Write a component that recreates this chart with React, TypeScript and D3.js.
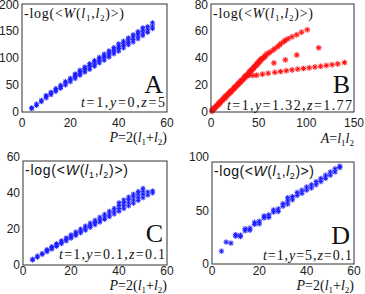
import React from "react";
import * as d3 from "d3";

// ---------- DATA ----------
// Panel A: P = 2(l1+l2), -log<W>
const aP = [4, 4, 6, 6, 8, 8, 10, 10, 10, 12, 12, 12, 14, 14, 14, 16, 16, 16, 18, 18, 18, 20, 20, 20,
  22, 22, 22, 22, 24, 24, 24, 24, 26, 26, 26, 26, 28, 28, 28, 28, 30, 30, 30, 30, 32, 32, 32, 32,
  34, 34, 34, 34, 36, 36, 36, 36, 38, 38, 38, 38, 40, 40, 40, 40, 42, 42, 42, 42, 44, 44, 44, 44,
  46, 46, 46, 46, 48, 48, 48, 48, 50, 50, 50, 50, 52, 52, 52, 54, 54, 54];
const aW = [6, 8, 12, 15, 19, 22, 26, 29, 31, 32, 35, 37, 38, 41, 44, 44, 47, 50, 50, 54, 57, 56, 60, 63,
  62, 66, 69, 71, 68, 72, 75, 78, 74, 78, 81, 84, 79, 84, 87, 90, 85, 89, 93, 96, 91, 95, 99, 102,
  96, 101, 104, 108, 102, 106, 110, 114, 108, 112, 116, 120, 113, 118, 122, 127, 119, 124, 128, 132,
  125, 129, 134, 138, 130, 135, 140, 144, 136, 141, 146, 150, 142, 147, 152, 157, 148, 153, 159, 155, 160, 166];

// Panel B: A = l1*l2, -log<W>
const bA = [1, 1, 2, 2, 3, 3, 4, 4, 5, 6, 6, 7, 8, 8, 9, 9, 10, 10, 11, 12, 12, 13, 14, 14, 15, 15, 16, 16, 17, 18, 18, 19,
  20, 20, 21, 21, 22, 23, 24, 24, 25, 25, 26, 27, 28, 28, 29, 30, 30, 31, 32, 32, 33, 34, 35, 35, 36, 36, 37, 38, 39,
  40, 40, 41, 42, 42, 43, 44, 45, 45, 46, 47, 48, 48, 49, 50, 50, 51, 52, 52, 53, 54, 55, 56, 57,
  38, 40, 44,
  58, 60, 62, 65, 67, 70, 72, 74, 77, 78, 81, 85, 90, 95, 101,
  66, 78, 90, 113,
  48, 54, 60, 67, 73, 79, 85, 91, 97, 103, 109, 115, 121, 127, 133, 140];
const bW = [0.6, 1.2, 1.4, 2.0, 2.1, 2.7, 2.9, 3.4, 3.8, 4.3, 4.9, 5.2, 5.7, 6.3, 6.4, 7.0, 7.2, 7.9, 8.1, 8.6, 9.3, 9.5, 10.1, 10.7, 10.8, 11.5, 11.5, 12.2, 12.4, 13.0, 13.6, 13.8,
  14.4, 15.1, 15.1, 15.8, 16.0, 16.6, 17.3, 17.9, 18.0, 18.7, 18.9, 19.6, 20.2, 20.9, 21.0, 21.6, 22.3, 22.5, 23.1, 23.8, 23.9, 24.6, 25.2, 25.9, 26.0, 26.7, 27.0, 27.7, 28.4,
  29.0, 29.8, 30.0, 30.5, 31.3, 31.6, 32.2, 32.7, 33.6, 34.0, 34.5, 35.0, 35.9, 36.2, 36.6, 37.5, 37.6, 38.2, 39.0, 39.4, 40.0, 40.2, 41.2, 41.5,
  27.0, 27.3, 27.2,
  43.0, 43.6, 44.6, 46.0, 47.2, 48.6, 50.0, 51.2, 52.6, 53.4, 54.6, 56.0, 57.5, 59.4, 61.2,
  36.5, 38.8, 42.4, 47.8,
  27.4, 28.1, 28.8, 29.5, 30.1, 30.7, 31.3, 31.9, 32.4, 32.9, 33.5, 34.0, 34.6, 35.2, 35.8, 36.8];

// Panel C
const cP = [4, 4, 6, 6, 8, 8, 10, 10, 10, 12, 12, 12, 14, 14, 14, 16, 16, 16, 18, 18, 18, 20, 20, 20,
  22, 22, 22, 24, 24, 24, 26, 26, 26, 28, 28, 28, 30, 30, 30, 32, 32, 32, 34, 34, 34, 36, 36, 36,
  38, 38, 38, 40, 40, 40, 40, 42, 42, 42, 42, 44, 44, 44, 44, 46, 46, 46, 46, 48, 48, 48, 48,
  50, 50, 50, 50, 52, 52, 54, 54];
const cW = [2.7, 3.3, 4.3, 5.0, 5.8, 6.5, 7.3, 8.0, 8.6, 8.8, 9.6, 10.3, 10.3, 11.1, 11.9, 11.8, 12.6, 13.5, 13.3, 14.2, 15.1, 14.8, 15.8, 16.8,
  16.3, 17.3, 18.4, 17.8, 18.9, 20.0, 19.3, 20.5, 21.7, 20.8, 22.0, 23.3, 22.3, 23.6, 24.9, 23.8, 25.1, 26.6, 25.3, 26.7, 28.2, 26.8, 28.3, 29.9,
  28.3, 29.9, 31.5, 29.8, 31.4, 33.1, 34.6, 31.3, 33.0, 34.7, 36.2, 32.8, 34.5, 36.3, 37.8, 34.3, 36.1, 37.9, 39.4, 35.8, 37.6, 39.4, 40.9,
  37.3, 39.2, 41.0, 42.6, 38.8, 40.6, 40.0, 41.2];

// Panel D
const dP = [4, 6, 8, 10, 10, 12, 12, 14, 14, 16, 16, 18, 18, 20, 20, 22, 22, 24, 24, 26, 26, 28, 28, 30, 30,
  32, 32, 32, 34, 34, 36, 36, 38, 38, 40, 40, 42, 42, 44, 44, 46, 46, 48, 48, 50, 50, 52, 52, 54, 54];
const dW = [12, 20.5, 19.5, 26, 27.5, 25.5, 27, 31, 33, 31.5, 33.5, 37, 39, 37.5, 40, 43, 45, 43.5, 46, 48.5, 50.5, 49, 51.5, 54, 56.5,
  56, 59, 62, 60, 63, 64, 67, 66, 69, 69, 72, 71, 74, 74, 77, 77, 80, 80, 83, 83, 86, 86, 89, 90, 91.5];

const ticksA_x = [0, 20, 40, 60];
const ticksA_y = [0, 50, 100, 150, 200];
const ticksB_x = [0, 50, 100, 150];
const ticksB_y = [0, 20, 40, 60, 80];
const ticksC_x = [0, 20, 40, 60];
const ticksC_y = [0, 20, 40, 60];
const ticksD_x = [0, 20, 40, 60];
const ticksD_y = [0, 50, 100];

const SERIF = "'Liberation Serif', 'Times New Roman', serif";
const SANS = "'Liberation Sans', Arial, sans-serif";

type PanelCfg = {
  xs: number[]; ys: number[];
  xDom: [number, number]; yDom: [number, number];
  xR: [number, number]; yR: [number, number];
  frameTop: number;
  xt: number[]; yt: number[];
  color: string; halo: string; mr: number;
  letter: string; letterY: number;
  params: [string, string, string]; paramY: number; paramW: number;
  titleFont: string; titleW: number;
  xlabel: "P" | "A"; xlabelY: number; xtickY: number;
};

function star(x: number, y: number, r: number) {
  const d = r * 0.72;
  return `M${x - r},${y}L${x + r},${y}M${x},${y - r}L${x},${y + r}M${x - d},${y - d}L${x + d},${y + d}M${x - d},${y + d}L${x + d},${y - d}`;
}

function Panel({ c }: { c: PanelCfg }) {
  const x = d3.scaleLinear().domain(c.xDom).range(c.xR);
  const y = d3.scaleLinear().domain(c.yDom).range(c.yR);
  const left = c.xR[0], right = c.xR[1], bottom = c.yR[0], top = c.frameTop;
  const pts = c.xs.map((v, i) => [x(v), y(c.ys[i])]);
  const sub = { fontSize: 9, fontStyle: "normal" as const };
  return (
    <g>
      <g>
        {pts.map(([px, py], i) => (
          <path key={"h" + i} d={star(px, py, c.mr + 0.4)} stroke={c.halo} strokeWidth={2} fill="none" />
        ))}
        {pts.map(([px, py], i) => (
          <path key={"p" + i} d={star(px, py, c.mr)} stroke={c.color} strokeWidth={1} fill="none" />
        ))}
      </g>
      <rect x={left} y={top} width={right - left} height={bottom - top} fill="none" stroke="#333" strokeWidth={1} />
      {c.yt.map((t) => (
        <text key={"yt" + t} x={left - 3} y={y(t) + 4} textAnchor="end" fontFamily={SANS} fontSize={12} fill="#222">{t}</text>
      ))}
      {c.xt.map((t) => (
        <text key={"xt" + t} x={x(t)} y={c.xtickY} textAnchor="middle" fontFamily={SANS} fontSize={12} fill="#222">{t}</text>
      ))}
      <text x={left + 2} y={top + 14} fontFamily={c.titleFont} fontSize={14} textLength={c.titleW} lengthAdjust="spacing" fill="#111">
        -log(&lt;<tspan fontStyle="italic">W</tspan>(<tspan fontStyle="italic">l</tspan><tspan dy={3} {...sub}>1</tspan><tspan dy={-3}>,</tspan><tspan fontStyle="italic">l</tspan><tspan dy={3} {...sub}>2</tspan><tspan dy={-3}>)&gt;)</tspan>
      </text>
      <text x={right - 4} y={c.letterY} textAnchor="end" fontFamily={SERIF} fontSize={26} fill="#111">{c.letter}</text>
      <text x={right - 2 - c.paramW} y={c.paramY} fontFamily={SERIF} fontSize={14} textLength={c.paramW} lengthAdjust="spacing" fill="#111">
        <tspan fontStyle="italic">t</tspan>=1,<tspan fontStyle="italic">y</tspan>={c.params[1]},<tspan fontStyle="italic">z</tspan>={c.params[2]}
      </text>
      {c.xlabel === "P" ? (
        <text x={right} y={c.xlabelY} textAnchor="end" fontFamily={SERIF} fontSize={14} fill="#111">
          <tspan fontStyle="italic">P</tspan>=2(<tspan fontStyle="italic">l</tspan><tspan dy={3} {...sub}>1</tspan><tspan dy={-3}>+</tspan><tspan fontStyle="italic">l</tspan><tspan dy={3} {...sub}>2</tspan><tspan dy={-3}>)</tspan>
        </text>
      ) : (
        <text x={right} y={c.xlabelY} textAnchor="end" fontFamily={SERIF} fontSize={14} fill="#111">
          <tspan fontStyle="italic">A</tspan>=<tspan fontStyle="italic">l</tspan><tspan dy={3} {...sub}>1</tspan><tspan dy={-3} fontStyle="italic">l</tspan><tspan dy={3} {...sub}>2</tspan>
        </text>
      )}
    </g>
  );
}

export default function App() {
  const blue = "#1a1aff", blueHalo = "rgba(120,130,255,0.3)";
  const red = "#ff1010", redHalo = "rgba(255,110,110,0.45)";
  const panels: PanelCfg[] = [
    { xs: aP, ys: aW, xDom: [0, 60], yDom: [0, 200], xR: [22, 167], yR: [112, 4.5], frameTop: 4, xt: ticksA_x, yt: ticksA_y,
      color: blue, halo: blueHalo, mr: 2.3, letter: "A", letterY: 93, params: ["1", "0", "5"], paramY: 107, paramW: 84,
      titleFont: SERIF, titleW: 100, xlabel: "P", xlabelY: 142, xtickY: 127 },
    { xs: bA, ys: bW, xDom: [0, 150], yDom: [0, 80], xR: [211, 354], yR: [112, 4.5], frameTop: 4, xt: ticksB_x, yt: ticksB_y,
      color: red, halo: redHalo, mr: 2.6, letter: "B", letterY: 93, params: ["1", "1.32", "1.77"], paramY: 110, paramW: 125,
      titleFont: SERIF, titleW: 100, xlabel: "A", xlabelY: 143, xtickY: 127 },
    { xs: cP, ys: cW, xDom: [0, 60], yDom: [0, 60], xR: [23, 167], yR: [265, 157], frameTop: 161, xt: ticksC_x, yt: ticksC_y,
      color: blue, halo: blueHalo, mr: 2.3, letter: "C", letterY: 242, params: ["1", "0.1", "0.1"], paramY: 259, paramW: 106,
      titleFont: SANS, titleW: 103, xlabel: "P", xlabelY: 290, xtickY: 275 },
    { xs: dP, ys: dW, xDom: [0, 60], yDom: [0, 100], xR: [212, 354], yR: [264, 157], frameTop: 162, xt: ticksD_x, yt: ticksD_y,
      color: blue, halo: blueHalo, mr: 2.5, letter: "D", letterY: 244, params: ["1", "5", "0.1"], paramY: 260, paramW: 89,
      titleFont: SANS, titleW: 100, xlabel: "P", xlabelY: 290, xtickY: 275 },
  ];
  return (
    <svg width={365} height={294} style={{ position: "absolute", left: 0, top: 0, background: "#fff" }}>
      <rect width={365} height={294} fill="#fff" />
      {panels.map((p, i) => <Panel key={i} c={p} />)}
    </svg>
  );
}
